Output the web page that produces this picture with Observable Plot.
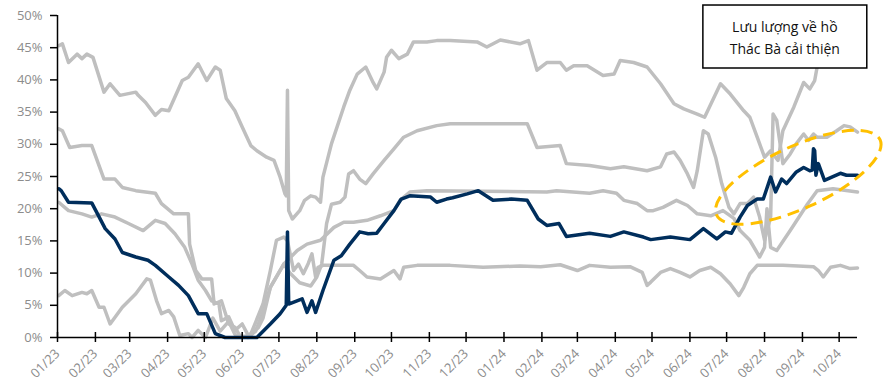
<!DOCTYPE html>
<html><head><meta charset="utf-8">
<script src="https://cdn.jsdelivr.net/npm/d3@7"></script>
<script src="https://cdn.jsdelivr.net/npm/@observablehq/plot@0.6"></script>
<style>body{margin:0;background:#fff;} #chart{width:888px;height:389px;}</style>
</head><body><div id="chart"></div>
<script>
// Time axis: days since 2023-01-01
const startDate = Date.UTC(2023, 0, 1);
const endDay = 654;
const yTicks = [0,5,10,15,20,25,30,35,40,45,50];

// Gray series 1 (highest)
const maxDays = [1,4,9,16,20,24,29,38,43,51,64,66,72,80,85,91,102,107,115,122,129,133,138,145,151,158,163,171,177,182,186,187,188,189,192,198,202,207,211,215,217,224,234,239,245,252,258,261,267,269,273,279,286,291,302,310,321,343,351,362,378,385,392,400,411,416,422,433,446,455,460,471,482,493,504,512,523,529,542,550,561,566,572,578,583,589,593,602,610,615,619,621,623,654];
const maxVals = [45.3,45.6,42.7,44.0,43.3,44.0,43.5,38.1,39.4,37.6,38.1,37.6,36.5,34.5,35.4,35.2,39.9,40.4,42.5,39.9,42.0,41.5,37.1,35.2,32.7,29.8,29.0,28.0,27.5,24.9,22.3,22.0,38.4,19.7,18.4,19.7,21.3,22.0,21.8,21.0,24.9,30.1,35.8,38.4,40.9,42.0,39.6,38.6,41.2,43.5,44.6,43.3,44.0,45.9,45.9,46.1,46.1,45.9,45.1,46.2,45.6,46.1,41.5,42.7,42.7,41.5,42.2,42.2,40.7,40.9,43.0,42.7,42.0,39.4,36.3,35.5,34.7,34.2,39.4,37.8,35.2,34.2,31.1,28.0,29.0,27.5,32.1,35.8,39.6,38.6,39.9,42.0,47,47];

// Gray series 2
const upDays = [1,4,10,20,28,38,47,53,64,80,85,95,107,108,113,118,126,128,134,140,145,149,156,162,168,174,185,190,198,207,212,216,220,224,231,235,238,242,247,252,258,267,275,283,294,310,321,384,392,411,416,435,452,463,482,493,498,504,509,515,520,523,528,532,538,543,549,553,558,564,569,574,578,583,585,588,593,599,604,610,614,618,621,629,637,643,648,654];
const upVals = [32.4,32.1,29.5,29.8,29.8,24.6,24.6,23.3,22.8,22.4,20.8,19.2,19.2,14.5,10.4,9.1,9.1,5.2,5.7,2.1,1.6,0.3,0,1,4,7.8,11.4,10,8.5,8,9.4,11.4,17.7,20.7,21.0,21.8,25.4,25.9,24.6,23.9,25.4,27.5,29.3,31.1,32.1,32.9,33.2,33.2,29.5,29.8,27.0,26.7,26.2,26.5,25.9,26.5,28.5,28.8,27.5,25.4,23.3,25.9,32.1,31.6,28.0,23.9,20.2,19.2,20.8,20.8,21.8,18.7,15.1,18.7,34.7,33.7,27.0,28.5,30.1,31.6,30.6,31.6,31.1,31.1,32.1,32.9,32.7,31.9];

// Gray series 3
const midDays = [1,9,20,28,36,47,58,70,80,88,96,104,110,115,121,126,132,134,140,145,151,156,164,168,174,185,196,204,215,226,234,242,253,264,275,280,288,302,400,408,435,446,457,463,474,482,487,495,506,515,523,534,544,553,558,566,574,578,580,583,588,599,613,621,634,654];
const midVals = [21.0,19.7,19.2,18.7,19.2,18.7,17.7,16.6,18.2,17.7,16.1,14.0,11.4,8.9,7.3,5.7,5.2,2.6,3.2,1.1,2.1,0.3,1.5,3,7.8,11.4,13.5,14.5,15.1,17.1,17.9,17.9,18.2,18.9,19.7,21.3,22.6,22.8,22.6,22.8,22.4,22.8,22.4,21.3,20.8,19.7,19.7,20.2,21.3,20.5,19.2,18.9,19.7,18.5,16.6,15.1,12.5,14,20,14,13.5,16.6,20.7,22.8,23.1,22.6];

// Gray series 4 (lowest)
const lowDays = [1,6,12,20,24,28,34,38,43,53,64,73,76,81,85,91,95,100,107,110,115,121,127,133,140,145,151,158,168,174,179,185,188,193,197,201,205,208,211,213,217,242,247,253,264,275,280,283,294,321,348,378,395,411,425,435,452,468,478,482,485,493,501,509,517,525,534,542,550,557,561,566,572,593,618,622,626,632,640,648,654];
const lowVals = [6.5,7.3,6.5,7.0,6.8,7.3,4.7,4.7,2.1,4.7,6.8,9.1,8.9,5.7,3.7,4.2,3.2,0.3,0.6,0,1.1,0,3,1,2.5,0.5,0,0.5,5.2,10.4,15.1,15.6,15,10.4,11.4,9.9,11.5,13.0,9.4,10.9,11.2,11.2,10.4,9.4,9.1,10.4,9.1,10.9,11.2,11.2,10.9,11.1,11.0,11.3,10.4,11.2,10.9,11.0,10.1,8.1,8.6,10.1,10.7,10.1,9.4,10.4,10.9,9.9,8.3,6.5,7.8,9.9,11.2,11.2,11.0,10.4,9.4,10.9,11.2,10.7,10.8];

// Navy series (2023-2024)
const actDays = [1,3,9,28,39,47,53,64,74,80,91,99,107,115,122,129,137,163,174,182,187,188,189,200,204,208,211,217,226,232,239,247,254,261,267,275,281,288,305,310,318,323,335,344,356,371,384,393,400,410,416,435,452,463,479,485,501,517,528,539,546,551,558,564,572,577,583,587,592,596,604,610,615,617,618,619,620,622,627,633,640,645,654];
const actVals = [23.1,22.8,21.0,20.9,16.9,15.3,13.2,12.5,12.0,11.2,9.4,8.1,6.5,3.7,3.7,0.6,0,0,2.1,3.7,5.0,16.4,5.2,6.0,3.9,5.7,3.9,7.3,12.0,12.7,14.5,16.4,16.1,16.2,17.7,19.7,21.5,22.0,21.8,21.0,21.5,21.7,22.3,22.8,21.3,21.5,21.3,18.4,17.4,17.7,15.7,16.2,15.7,16.4,15.6,15.2,15.6,15.2,16.9,15.3,16.4,16.2,18.7,20.5,21.5,21.5,24.9,22.6,24.6,23.9,25.7,26.4,25.9,26.0,29.3,29.0,25.2,27.0,24.4,24.9,25.5,25.2,25.2];

// Annotation
const noteLines = ["Lưu lượng về hồ", "Thác Bà cải thiện"];
const noteBox = {day1: 528, day2: 662, v1: 51.55, v2: 41.77};
const ellipse = {day: 606, v: 24.8};

const toDate = d => new Date(startDate + d * 864e5);
const rows = (days, vals) => days.map((d, i) => ({date: toDate(d), v: vals[i]}));
const months = d3.utcMonth.range(new Date(startDate), new Date(Date.UTC(2024, 9, 2)));

const GRAY = "#BFBFBF", NAVY = "#002E5C";
const lineOpts = (c) => ({x: "date", y: "v", stroke: c, strokeWidth: 3.5, strokeLinejoin: "round", strokeLinecap: "round"});

const plot = Plot.plot({
  width: 888, height: 389,
  marginLeft: 57, marginRight: 31, marginTop: 15, marginBottom: 52,
  style: {fontFamily: "'Open Sans', sans-serif", fontSize: "13px", background: "white", overflow: "visible"},
  x: {type: "utc", domain: [toDate(0), toDate(endDay)]},
  y: {domain: [0, 50]},
  marks: [
    Plot.axisY({ticks: yTicks, tickFormat: d => d + "%", tickSize: 7, tickPadding: 8, fill: "#8c8c8c", stroke: "black", strokeWidth: 1.5, label: null}),
    Plot.axisX({ticks: months, tickFormat: d3.utcFormat("%m/%y"), tickRotate: -45, tickSize: 0, tickPadding: 14, fill: "#8c8c8c", label: null}),
    Plot.line(rows(maxDays, maxVals), lineOpts(GRAY)),
    Plot.line(rows(upDays, upVals), lineOpts(GRAY)),
    Plot.line(rows(midDays, midVals), lineOpts(GRAY)),
    Plot.line(rows(lowDays, lowVals), lineOpts(GRAY)),
    Plot.line(rows(actDays, actVals), lineOpts(NAVY)),
    Plot.ruleX([toDate(0)], {stroke: "black", strokeWidth: 1.5}),
    Plot.ruleY([0], {stroke: "black", strokeWidth: 1.5}),
    Plot.ruleX(months, {x: d => d, y1: 0, y2: 0, insetTop: 5, insetBottom: 5, stroke: "black", strokeWidth: 1.5})
  ]
});

const xs = plot.scale("x"), ys = plot.scale("y");
const svg = d3.select(plot);
const cx = xs.apply(toDate(ellipse.day)), cy = ys.apply(ellipse.v);
svg.append("ellipse")
  .attr("cx", cx).attr("cy", cy).attr("rx", 90).attr("ry", 31)
  .attr("transform", `rotate(-24.7 ${cx} ${cy})`)
  .attr("fill", "none").attr("stroke", "#FFC000").attr("stroke-width", 3)
  .attr("stroke-dasharray", "12 7");

const bx1 = xs.apply(toDate(noteBox.day1)), bx2 = xs.apply(toDate(noteBox.day2));
const by1 = ys.apply(noteBox.v1), by2 = ys.apply(noteBox.v2);
svg.append("rect").attr("x", bx1).attr("y", by1).attr("width", bx2 - bx1).attr("height", by2 - by1)
  .attr("fill", "white").attr("stroke", "black").attr("stroke-width", 1.5);
noteLines.forEach((t, i) => {
  svg.append("text").attr("x", (bx1 + bx2) / 2).attr("y", by1 + 27 + i * 22)
    .attr("text-anchor", "middle").attr("fill", "#111")
    .style("font-family", "'Open Sans', sans-serif").style("font-size", "14px").text(t);
});

document.getElementById("chart").appendChild(plot);
</script>
</body></html>
